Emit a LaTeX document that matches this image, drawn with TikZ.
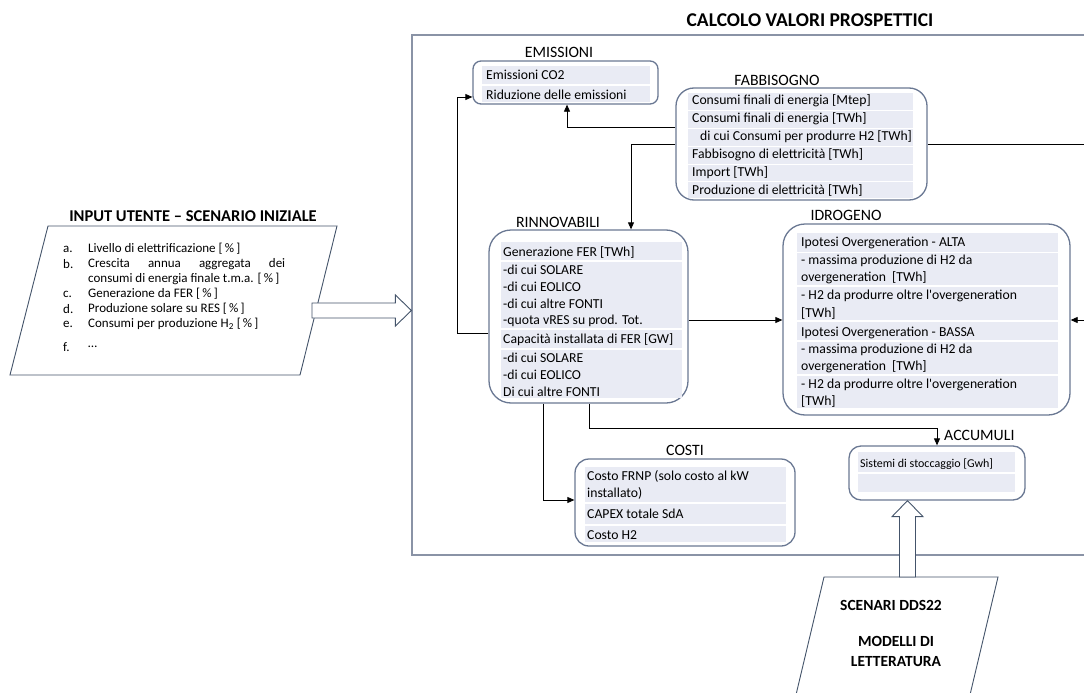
\documentclass[tikz,border=0pt]{standalone}
\usepackage{fontspec}
\setmainfont{Carlito}
\usetikzlibrary{arrows.meta,calc}

\definecolor{boxline}{HTML}{6A7893}
\definecolor{rowfill}{HTML}{E9EBF4}
\definecolor{frameline}{HTML}{8A93A6}
\definecolor{paraline}{HTML}{44546A}

\tikzset{
  box/.style={draw=boxline, line width=1.3pt, rounded corners=#1, inner sep=0pt},
  rowbar/.style={fill=rowfill},
  txt/.style={anchor=west, inner sep=0pt, font=\fontsize{13.7}{15}\selectfont},
  lbl/.style={inner sep=0pt, font=\fontsize{15.8}{18}\selectfont},
  ttl/.style={inner sep=0pt, font=\bfseries\fontsize{19.5}{22}\selectfont},
  lst/.style={anchor=west, inner sep=0pt, font=\fontsize{13}{15}\selectfont},
  conn/.style={draw=black, line width=0.8pt},
  tip/.style={-{Triangle[length=7pt,width=6pt]}},
  hollow/.style={draw=paraline, line width=0.9pt, fill=white},
  para/.style={draw=paraline, line width=0.9pt},
}

\begin{document}
\begin{tikzpicture}[x=1pt,y=-1pt]
\clip (0,0) rectangle (1084,693);
\fill[white] (0,0) rectangle (1084,693);

% ---------- main calculation frame ----------
\node[draw=frameline, line width=1.2pt, minimum width=688pt, minimum height=520pt, inner sep=0pt]
  (frame) at (756,295) {};
\node[ttl] (title) at (810,20) {CALCOLO VALORI PROSPETTICI};

% ---------- EMISSIONI ----------
\node[box=8pt, minimum width=185pt, minimum height=43pt] (emi) at (565.5,82.5) {};
\node[lbl] (emiL) at (559,52) {EMISSIONI};
\fill[rowbar] (482,66) rectangle (650,84);
\fill[rowbar] (482,86) rectangle (650,102);
\node[txt] (e1) at (486,75) {Emissioni CO2};
\node[txt] (e2) at (486,95) {Riduzione delle emissioni};

% ---------- FABBISOGNO ----------
\node[box=18pt, minimum width=251pt, minimum height=112pt] (fab) at (801.5,144) {};
\node[lbl] (fabL) at (777,80) {FABBISOGNO};
\foreach \ya/\yb in {93/110, 111/128, 129/146, 147/164, 165/181, 182/198}
  \fill[rowbar] (688,\ya) rectangle (913,\yb);
\node[txt] (f1) at (692,101) {Consumi finali di energia [Mtep]};
\node[txt] (f2) at (692,119) {Consumi finali di energia [TWh]};
\node[txt] (f3) at (700,137) {di cui Consumi per produrre H2 [TWh]};
\node[txt] (f4) at (692,155) {Fabbisogno di elettricità [TWh]};
\node[txt] (f5) at (692,173) {Import [TWh]};
\node[txt] (f6) at (692,190) {Produzione di elettricità [TWh]};

% ---------- RINNOVABILI ----------
\node[box=22pt, minimum width=199pt, minimum height=173pt] (rin) at (588.5,316.5) {};
\node[lbl] (rinL) at (558,222) {RINNOVABILI};
\fill[rowbar] (501,242) rectangle (682,260);
\fill[rowbar] (501,262) rectangle (682,328);
\fill[rowbar] (501,330) rectangle (682,348);
\fill[rowbar] (501,350) rectangle (682,398);
\node[txt] (r1) at (503,252) {Generazione FER [TWh]};
\node[txt] (r2) at (503,270) {-di cui SOLARE};
\node[txt] (r3) at (503,287) {-di cui EOLICO};
\node[txt] (r4) at (503,304) {-di cui altre FONTI};
\node[txt] (r5) at (503,321) {-quota vRES su prod. Tot.};
\node[txt] (r6) at (503,340) {Capacità installata di FER [GW]};
\node[txt] (r7) at (503,358) {-di cui SOLARE};
\node[txt] (r8) at (503,375) {-di cui EOLICO};
\node[txt] (r9) at (503,392) {Di cui altre FONTI};

% ---------- IDROGENO ----------
\node[box=22pt, minimum width=287pt, minimum height=191pt] (idr) at (926.5,319.5) {};
\node[lbl] (idrL) at (846,215) {IDROGENO};
\foreach \ya/\yb in {233/252, 253/285, 287/320, 322/340, 342/374, 376/408}
  \fill[rowbar] (797,\ya) rectangle (1058,\yb);
\node[txt] (i1) at (801,243) {Ipotesi Overgeneration - ALTA};
\node[txt] (i2) at (801,261) {- massima produzione di H2 da};
\node[txt] (i3) at (801,278) {overgeneration\ \ [TWh]};
\node[txt] (i4) at (801,296) {- H2 da produrre oltre l\textquotesingle overgeneration};
\node[txt] (i5) at (801,313) {[TWh]};
\node[txt] (i6) at (801,333) {Ipotesi Overgeneration - BASSA};
\node[txt] (i7) at (801,350) {- massima produzione di H2 da};
\node[txt] (i8) at (801,367) {overgeneration\ \ [TWh]};
\node[txt] (i9) at (801,385) {- H2 da produrre oltre l\textquotesingle overgeneration};
\node[txt] (i10) at (801,401) {[TWh]};

% ---------- COSTI ----------
\node[box=14pt, minimum width=220pt, minimum height=87pt] (cos) at (685,502.5) {};
\node[lbl] (cosL) at (685,450) {COSTI};
\fill[rowbar] (585,467) rectangle (786,502);
\fill[rowbar] (585,504) rectangle (786,524);
\fill[rowbar] (585,526) rectangle (786,542);
\node[txt] (c1) at (587,476) {Costo FRNP (solo costo al kW};
\node[txt] (c2) at (587,493) {installato)};
\node[txt] (c3) at (587,514) {CAPEX totale SdA};
\node[txt] (c4) at (587,535) {Costo H2};

% ---------- ACCUMULI ----------
\node[box=12pt, minimum width=176pt, minimum height=54pt] (acc) at (937,473) {};
\node[lbl, anchor=west] (accL) at (944,435) {ACCUMULI};
\fill[rowbar] (858,452) rectangle (1015,472);
\fill[rowbar] (858,474) rectangle (1015,492);
\node[txt, font=\fontsize{12}{14}\selectfont] (a1) at (860,464) {Sistemi di stoccaggio [Gwh]};

% ---------- connectors ----------
\coordinate (h1) at (567,127);
\coordinate (h2) at (631,144);
\coordinate (h3) at (1100,144);
\coordinate (h4) at (457,333);
\coordinate (h5) at (457,97);
\coordinate (h6) at (700,320);
\coordinate (h7) at (1100,320);
\coordinate (h8) at (543,500);
\coordinate (h9) at (589,428);
\coordinate (h10) at (937,428);

\draw[conn,tip] (fab.west |- h1) -- (h1) -- (emi.south -| h1);
\draw[conn,tip] (fab.west |- h2) -- (h2) -- (rin.north -| h2);
\draw[conn] (fab.east |- h3) -- (h3);
\draw[conn,tip] (rin.west |- h4) -- (h4) -- (h5) -- (emi.west |- h5);
\draw[conn,tip] (rin.east |- h6) -- (idr.west |- h6);
\draw[conn,tip] (h7) -- (idr.east |- h7);
\draw[conn,tip] (rin.south -| h8) -- (h8) -- (cos.west |- h8);
\draw[conn,tip] (rin.south -| h9) -- (h9) -- (h10) -- (acc.north -| h10);

% ---------- INPUT UTENTE ----------
\coordinate (pA) at (48,226);
\coordinate (pB) at (337,226);
\coordinate (pC) at (300,375);
\coordinate (pD) at (10,375);
\draw[para] (pA) -- (pB) -- (pC) -- (pD) -- cycle;
\node[ttl, font=\bfseries\fontsize{16.5}{18}\selectfont] (inL) at (193,216) {INPUT UTENTE – SCENARIO INIZIALE};
\node[lst] (la) at (63,249) {a.};
\node[lst] (lb) at (63,264) {b.};
\node[lst] (lc) at (63,294) {c.};
\node[lst] (ld) at (63,309) {d.};
\node[lst] (le) at (63,324) {e.};
\node[lst] (lf) at (63,347) {f.};
\node[lst] (ta) at (88,249) {Livello di elettrificazione [\,\%\,]};
\node[lst] (tb) at (88,264) {\hbox to 197pt{Crescita\hfill annua\hfill aggregata\hfill dei}};
\node[lst] (tb2) at (88,279) {consumi di energia finale t.m.a. [\,\%\,]};
\node[lst] (tc) at (88,294) {Generazione da FER [\,\%\,]};
\node[lst] (td) at (88,309) {Produzione solare su RES [\,\%\,]};
\node[lst] (te) at (88,324) {Consumi per produzione H\textsubscript{2} [\,\%\,]};
\node[lst] (tf) at (88,347) {\dots};

% hollow arrow into the calculation frame
\coordinate (rt) at (frame.west |- 0,310.5);
\draw[hollow] (rt) -- ++(-16,-15.5) -- ++(0,8) -- (312,303) -- (312,318) -- ($(rt)+(-16,7.5)$) -- ++(0,8) -- cycle;

% ---------- SCENARI DDS22 ----------
\coordinate (sA) at (824,577);
\coordinate (sB) at (998,577);
\coordinate (sC) at (964,720);
\coordinate (sD) at (790,720);
\draw[para] (sA) -- (sB) -- (sC) -- (sD) -- cycle;
\node[ttl, font=\bfseries\fontsize{15.5}{17}\selectfont] (sc1) at (891,605) {SCENARI DDS22};
\node[ttl, font=\bfseries\fontsize{15.5}{17}\selectfont, align=center] (sc2) at (896,651) {MODELLI DI\\[3pt]LETTERATURA};

% hollow arrow up into ACCUMULI
\coordinate (ut) at (acc.south -| 907.5,0);
\draw[hollow] (ut) -- ++(15.5,16) -- ++(-7.5,0) -- (915.5,577) -- (899.5,577) -- ($(ut)+(-8,16)$) -- ++(-7.5,0) -- cycle;
\end{tikzpicture}
\end{document}
